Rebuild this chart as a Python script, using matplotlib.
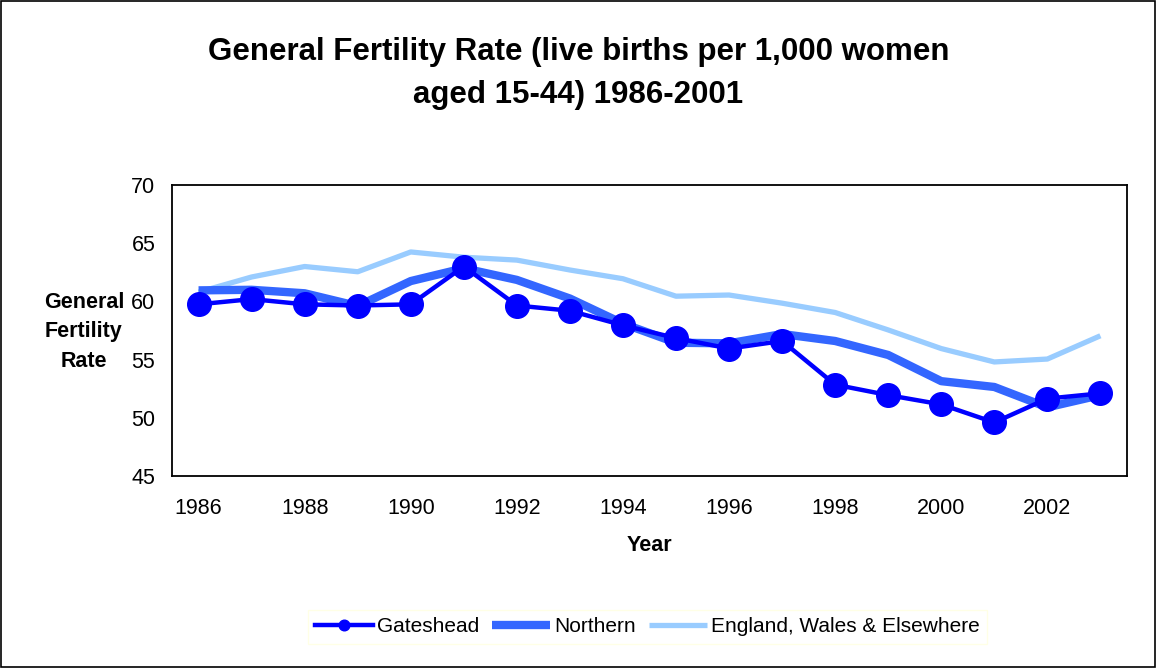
import matplotlib
matplotlib.use('Agg')
import matplotlib.pyplot as plt
from matplotlib.patches import Rectangle

plt.rcParams['font.family'] = ['Liberation Sans', 'DejaVu Sans']

## Data
years = list(range(1986, 2004))
gateshead = [59.75, 60.2, 59.75, 59.65, 59.75, 63.0, 59.65, 59.2, 57.95,
             56.85, 55.95, 56.6, 52.85, 51.95, 51.15, 49.6, 51.65, 52.1]
northern = [60.95, 61.0, 60.7, 59.6, 61.75, 62.85, 61.85, 60.25, 58.1,
            56.45, 56.4, 57.2, 56.6, 55.4, 53.15, 52.65, 50.9, 51.95]
england = [60.8, 62.1, 63.0, 62.55, 64.25, 63.8, 63.55, 62.7, 61.95,
           60.45, 60.55, 59.85, 59.05, 57.55, 55.95, 54.8, 55.05, 57.05]
x_ticks = [1986, 1988, 1990, 1992, 1994, 1996, 1998, 2000, 2002]
y_ticks = [45, 50, 55, 60, 65, 70]

fig = plt.figure(figsize=(11.57, 6.68), dpi=100)
ax = fig.add_axes([0.1487, 0.2874, 0.8253, 0.4356])

ax.plot(years, england, color='#99CCFF', lw=3.8, solid_capstyle='butt', zorder=2,
        label='England, Wales & Elsewhere')
ax.plot(years, northern, color='#3366FF', lw=6, solid_capstyle='butt', zorder=3,
        label='Northern')
ax.plot(years, gateshead, color='#0000FF', lw=3.2, marker='o', markersize=17,
        zorder=4, label='Gateshead')

ax.set_xlim(1985.5, 2003.5)
ax.set_ylim(45, 70)
ax.set_xticks(x_ticks)
ax.set_yticks(y_ticks)
ax.tick_params(axis='both', length=0, labelsize=15.5)
ax.tick_params(axis='x', pad=16)
ax.tick_params(axis='y', pad=12)
for s in ax.spines.values():
    s.set_linewidth(1.3)
    s.set_color('black')

ax.set_xlabel('Year', fontsize=15.5, fontweight='bold', labelpad=11)
fig.text(0.0726, 0.503, 'General\nFertility\nRate', ha='center', va='center',
         fontsize=15.5, fontweight='bold', linespacing=1.56)

fig.text(0.5, 0.89, 'General Fertility Rate (live births per 1,000 women\naged 15-44) 1986-2001',
         ha='center', va='center', fontsize=22.5, fontweight='bold', linespacing=1.55)

handles, labels = ax.get_legend_handles_labels()
order = [2, 1, 0]
leg = fig.legend([handles[i] for i in order], [labels[i] for i in order],
                 loc='center', bbox_to_anchor=(0.5596, 0.0614), ncol=3, fontsize=15,
                 frameon=True, fancybox=False, handlelength=2.8, handletextpad=0.2,
                 columnspacing=0.6, borderpad=0.35, borderaxespad=0, markerscale=0.45)
leg.get_frame().set_edgecolor('#FFFFE0')
leg.get_frame().set_linewidth(1)

fig.patches.append(Rectangle((0.001, 0.002), 0.997, 0.996, transform=fig.transFigure,
                             fill=False, edgecolor='black', lw=1.2))

fig.savefig('out.png', dpi=100)
